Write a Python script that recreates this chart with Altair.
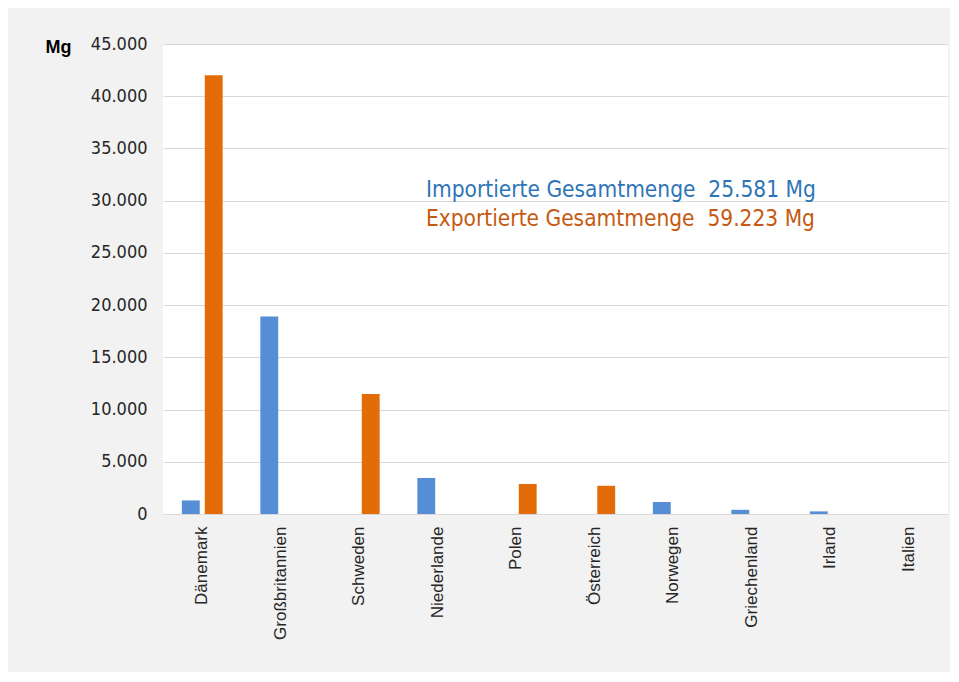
import altair as alt
import pandas as pd

countries = ["Dänemark", "Großbritannien", "Schweden", "Niederlande", "Polen",
             "Österreich", "Norwegen", "Griechenland", "Irland", "Italien"]
imports = [1300, 18900, 0, 3450, 0, 0, 1150, 400, 250, 0]
exports = [42000, 0, 11500, 0, 2870, 2700, 0, 0, 0, 0]
series = ["Import", "Export"]
notes = ["Importierte Gesamtmenge\u00a0 25.581 Mg", "Exportierte Gesamtmenge\u00a0 59.223 Mg"]

rows = []
for c, i, e in zip(countries, imports, exports):
    rows.append({"Land": c, "Art": series[0], "Menge": i})
    rows.append({"Land": c, "Art": series[1], "Menge": e})
df = pd.DataFrame(rows)

FONT = "'DejaVu Sans Condensed', 'Liberation Sans', sans-serif"

bars = alt.Chart(df).mark_bar().encode(
    x=alt.X("Land:N", sort=countries,
            scale=alt.Scale(paddingInner=0.48, paddingOuter=0.24),
            axis=alt.Axis(title=None, labelAngle=-90, labelAlign="right", labelBaseline="middle",
                          labelPadding=12, ticks=False, domain=False, labelFont="Liberation Sans",
                          labelFontSize=17, labelColor="#262626", grid=False)),
    xOffset=alt.XOffset("Art:N", sort=series, scale=alt.Scale(paddingInner=0.22, paddingOuter=0)),
    y=alt.Y("Menge:Q", scale=alt.Scale(domain=[0, 45000], nice=False),
            axis=alt.Axis(title="Mg", titleAngle=0, titleX=-118, titleY=3, titleAlign="left",
                          titleBaseline="middle", titleFont="Liberation Sans", titleFontSize=18,
                          titleFontWeight="bold", titleColor="#000000",
                          values=list(range(0, 45001, 5000)),
                          labelExpr="replace(format(datum.value, ',.0f'), ',', '.')",
                          labelFont=FONT, labelFontSize=18, labelColor="#262626", labelPadding=16,
                          ticks=False, domain=False, gridColor="#D9D9D9", gridWidth=1)),
    color=alt.Color("Art:N", sort=series,
                    scale=alt.Scale(domain=series, range=["#558ED5", "#E36C09"]), legend=None),
)

notes_df = pd.DataFrame({"t": notes, "c": ["#2E75B6", "#C55A11"], "yy": [146, 175]})
text = alt.Chart(notes_df).mark_text(align="left", baseline="middle", font=FONT, fontSize=22.5).encode(
    x=alt.value(263), y=alt.Y("yy:Q", scale=None, axis=None),
    text="t:N", color=alt.Color("c:N", scale=None, legend=None),
)

chart = alt.layer(bars, text).properties(
    width=785, height=470,
    background="#F2F2F2",
    padding={"left": 155, "top": 36, "right": 2, "bottom": 158},
    autosize=alt.AutoSizeParams(type="none"),
).configure_view(fill="white", stroke=None)

chart.save("out.html", embed_options={"renderer": "svg", "actions": False})
